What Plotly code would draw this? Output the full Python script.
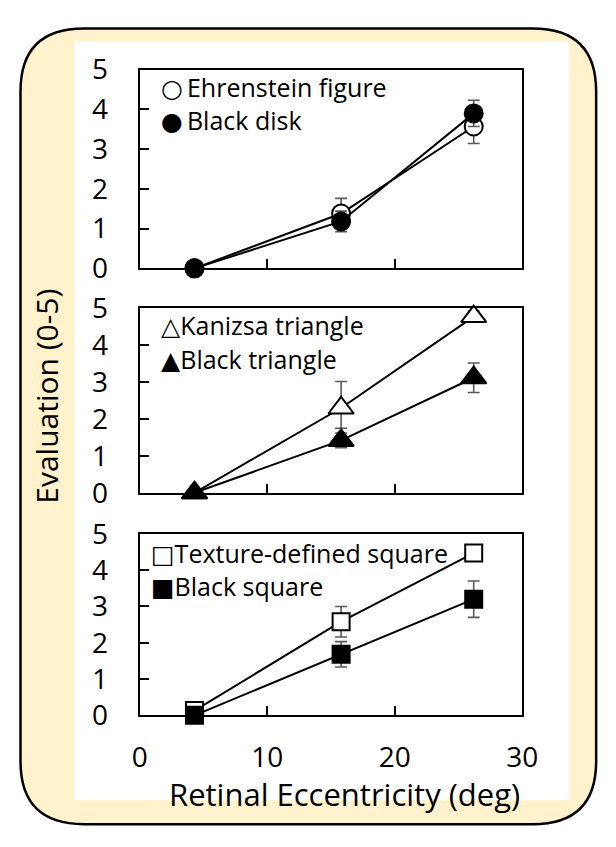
import plotly.graph_objects as go

W, H = 616, 847

# ---------------- data ----------------
ecc = [4.3, 15.8, 26.2]

ehrenstein = [0.0, 1.38, 3.57]
ehrenstein_err = [0.0, 0.38, 0.43]
black_disk = [0.0, 1.18, 3.90]
black_disk_err = [0.0, 0.26, 0.33]

kanizsa = [0.0, 2.30, 4.78]
kanizsa_err_plus = [0.0, 0.72, 0.15]
kanizsa_err_minus = [0.0, 0.55, 0.15]
black_triangle = [0.0, 1.42, 3.12]
black_triangle_err = [0.0, 0.20, 0.40]

texture_square = [0.13, 2.58, 4.47]
texture_square_err = [0.05, 0.42, 0.12]
black_square = [0.0, 1.68, 3.20]
black_square_err = [0.0, 0.35, 0.50]

x_ticks = [0, 10, 20, 30]
y_ticks = [0, 1, 2, 3, 4, 5]

legend_labels = [
    ["○\u2009Ehrenstein figure", "●\u2009Black disk"],
    ["△Kanizsa triangle", "▲Black triangle"],
    ["□Texture-defined square", "■Black square"],
]

FONT = "Open Sans, DejaVu Sans, sans-serif"
CREAM = "#FFF2CC"
ERR_COL = "#595959"


def px(xp):
    return xp / W


def py(yp):
    return 1 - yp / H


fig = go.Figure()

MARKER_SIZE = {"circle": 18, "triangle-up": 22, "square": 17}


def add_series(xaxis, yaxis, y, err_plus, err_minus, symbol, fill):
    fig.add_trace(go.Scatter(
        x=ecc, y=y, xaxis=xaxis, yaxis=yaxis,
        mode="lines+markers",
        line=dict(color="black", width=2),
        marker=dict(symbol=symbol, size=MARKER_SIZE[symbol],
                    color=fill, line=dict(color="black", width=2)),
        error_y=dict(type="data", array=err_plus, arrayminus=err_minus, symmetric=False,
                     color=ERR_COL, thickness=1.6, width=6),
        cliponaxis=False, showlegend=False,
    ))


add_series("x", "y", ehrenstein, ehrenstein_err, ehrenstein_err, "circle", "white")
add_series("x", "y", black_disk, black_disk_err, black_disk_err, "circle", "black")
add_series("x2", "y2", kanizsa, kanizsa_err_plus, kanizsa_err_minus, "triangle-up", "white")
add_series("x2", "y2", black_triangle, black_triangle_err, black_triangle_err, "triangle-up", "black")
add_series("x3", "y3", texture_square, texture_square_err, texture_square_err, "square", "white")
add_series("x3", "y3", black_square, black_square_err, black_square_err, "square", "black")

# panel frames in pixels: (top, bottom)
x_left, x_right = 137, 535
panels = [(52, 260), (302, 495), (538, 728)]

axis_common = dict(
    showline=True, linecolor="black", linewidth=2, mirror=True,
    ticks="inside", ticklen=9, tickwidth=2, tickcolor="black",
    showgrid=False, zeroline=False,
    tickfont=dict(family=FONT, size=28, color="black"),
)

layout = dict(
    autosize=True,
    margin=dict(l=0, r=0, t=0, b=0, pad=0),
    paper_bgcolor="white", plot_bgcolor="rgba(0,0,0,0)",
    showlegend=False,
)

for i, (top, bot) in enumerate(panels):
    s = "" if i == 0 else str(i + 1)
    layout["xaxis" + s] = dict(
        axis_common, domain=[px(x_left), px(x_right)], range=[0, 30],
        tickvals=x_ticks, showticklabels=(i == 2), ticklabelstandoff=16,
        anchor="y" + s,
    )
    layout["yaxis" + s] = dict(
        axis_common, domain=[py(bot), py(top)], range=[0, 5],
        tickvals=y_ticks, ticklabelstandoff=24,
        anchor="x" + s,
    )

fig.update_layout(**layout)

# ---------------- background shapes ----------------
r = 66
L, T, R, B = 13, 9, 612, 842


def rounded_path(L, T, R, B, r):
    pts = [
        f"M {px(L + r)},{py(T)}",
        f"L {px(R - r)},{py(T)}",
        f"Q {px(R)},{py(T)} {px(R)},{py(T + r)}",
        f"L {px(R)},{py(B - r)}",
        f"Q {px(R)},{py(B)} {px(R - r)},{py(B)}",
        f"L {px(L + r)},{py(B)}",
        f"Q {px(L)},{py(B)} {px(L)},{py(B - r)}",
        f"L {px(L)},{py(T + r)}",
        f"Q {px(L)},{py(T)} {px(L + r)},{py(T)}",
        "Z",
    ]
    return " ".join(pts)


fig.add_shape(type="path", xref="paper", yref="paper", path=rounded_path(L, T, R, B, r),
              fillcolor=CREAM, line=dict(color="black", width=2.5), layer="below")
fig.add_shape(type="rect", xref="paper", yref="paper",
              x0=px(69), x1=px(584), y0=py(817), y1=py(22),
              fillcolor="white", line=dict(width=0), layer="below")

# ---------------- legend text ----------------
legend_pos = [(157, 70, 105), (157, 319, 355), (147, 558, 593)]
for labels, (lx, y1, y2) in zip(legend_labels, legend_pos):
    for lab, yy in zip(labels, (y1, y2)):
        fig.add_annotation(x=px(lx), y=py(yy), xref="paper", yref="paper",
                           text=lab, showarrow=False, xanchor="left", yanchor="middle",
                           font=dict(family=FONT, size=25, color="black"))

# ---------------- axis titles ----------------
fig.add_annotation(x=px(40), y=py(394), xref="paper", yref="paper",
                   text="Evaluation (0-5)", showarrow=False, textangle=-90,
                   xanchor="center", yanchor="middle",
                   font=dict(family=FONT, size=30, color="black"))
fig.add_annotation(x=px(350), y=py(810), xref="paper", yref="paper",
                   text="Retinal Eccentricity (deg)", showarrow=False,
                   xanchor="center", yanchor="middle",
                   font=dict(family=FONT, size=31, color="black"))

fig.write_html(
    "out.html",
    default_width="100vw", default_height="100vh",
    config={"displayModeBar": False, "responsive": True},
    post_script="document.body.style.margin='0';document.body.style.padding='0';document.body.style.overflow='hidden';window.dispatchEvent(new Event('resize'));",
)
